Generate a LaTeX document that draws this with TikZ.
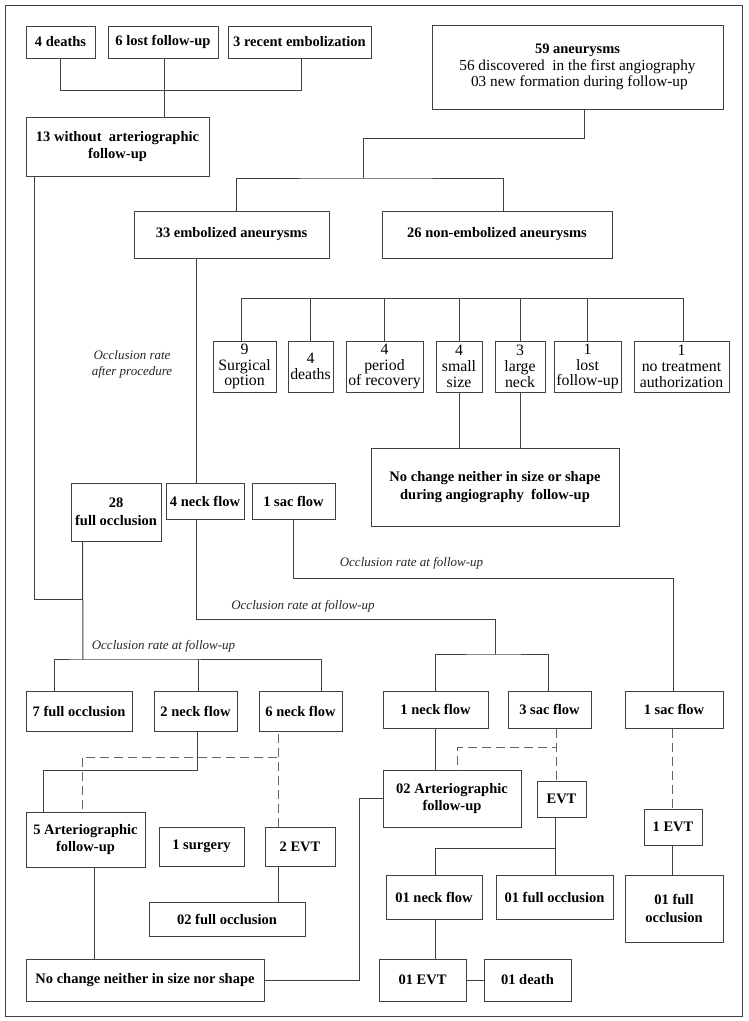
\documentclass[tikz,border=0pt]{standalone}
\usepackage{fontspec}
\setmainfont{Liberation Serif}
\usetikzlibrary{positioning}

\begin{document}
\begin{tikzpicture}[x=1pt, y=-1pt,
			box/.style={draw=black!75, line width=1pt, rectangle, inner sep=1pt, align=center, font=\fontsize{14.5}{17.5}\selectfont\bfseries},
			sbox/.style={draw=black!75, line width=1pt, rectangle, inner sep=1pt, align=center, font=\fontsize{15.8}{15.8}\selectfont},
			line/.style={draw=black!75, line width=1pt},
			dline/.style={draw=black!60, line width=1pt, dash pattern=on 9pt off 5pt},
			note/.style={font=\fontsize{13}{16}\selectfont\itshape, text=black!85, align=center}]
			
			\useasboundingbox (0,0) rectangle (749,1021);
			\draw[line] (5,5) rectangle (742,1016);
			
			% top
			\node[box, minimum width=69pt, minimum height=32pt] (deaths4) at (60.5,42) {4 deaths};
			\node[box, minimum width=110pt, minimum height=32pt, right=12pt of deaths4] (lost6) {6 lost follow-up};
			\node[box, minimum width=143pt, minimum height=32pt, right=9pt of lost6] (recent3) {3 recent embolization};
			\node[box, minimum width=183pt, minimum height=59pt] (without13) at (117.5,146.5) {13 without\ \ arteriographic\\follow-up};
			\node[box, minimum width=291pt, minimum height=84pt, font=\fontsize{15.3}{16.5}\selectfont] (all59) at (577.5,67) {{\fontsize{14.5}{16.5}\selectfont\bfseries 59 aneurysms}\\56 discovered\ \ in the first angiography\\\ 03 new formation during follow-up};
			\node[box, minimum width=195pt, minimum height=47pt] (emb33) at (231.5,234.5) {33 embolized aneurysms};
			\node[box, minimum width=230pt, minimum height=47pt] (non26) at (497,234.5) {26 non-embolized aneurysms};
			
			% non-embolized reasons
			\node[sbox, minimum width=63pt, minimum height=51pt] (surg) at (244.5,366.5) {9\\Surgical\\option};
			\node[sbox, minimum width=45pt, minimum height=51pt, right=11pt of surg] (dth4) {4\\deaths};
			\node[sbox, minimum width=77pt, minimum height=51pt, right=12pt of dth4] (rec) {4\\period\\of recovery};
			\node[sbox, minimum width=46pt, minimum height=51pt, right=12pt of rec] (small) {4\\small\\size};
			\node[sbox, minimum width=50pt, minimum height=51pt, right=12pt of small] (large) {3\\large\\neck};
			\node[sbox, minimum width=67pt, minimum height=51pt, right=8pt of large] (lost1) {1\\lost\\follow-up};
			\node[sbox, minimum width=95pt, minimum height=51pt, right=12pt of lost1] (notreat) {1\\no treatment\\authorization};
			\node[box, minimum width=248pt, minimum height=78pt] (nochg1) at (495,487) {No change neither in size or shape\\during angiography\ \ follow-up};
			
			% after procedure
			\node[note] (rate0) at (132,364) {Occlusion rate\\after procedure};
			\node[box, minimum width=90pt, minimum height=58pt] (full28) at (116,512) {28\\full occlusion};
			\node[box, minimum width=78pt, minimum height=36pt] (neck4) at (205,501) {4 neck flow};
			\node[box, minimum width=83pt, minimum height=36pt, right=7pt of neck4] (sac1) {1 sac flow};
			
			% at follow-up
			\node[note] (rate1) at (163.5,646) {Occlusion rate at follow-up};
			\node[note] (rate2) at (303,606) {Occlusion rate at follow-up};
			\node[note] (rate3) at (411.5,563) {Occlusion rate at follow-up};
			\node[box, minimum width=106pt, minimum height=40pt] (full7) at (79,711) {7 full occlusion};
			\node[box, minimum width=83pt, minimum height=40pt, right=21pt of full7] (neck2) {2 neck flow};
			\node[box, minimum width=83pt, minimum height=40pt, right=21pt of neck2] (neck6) {6 neck flow};
			\node[box, minimum width=105pt, minimum height=37pt] (neck1) at (435.5,709.5) {1 neck flow};
			\node[box, minimum width=83pt, minimum height=37pt, right=19pt of neck1] (sac3) {3 sac flow};
			\node[box, minimum width=98pt, minimum height=37pt] (sacR) at (674,709.5) {1 sac flow};
			
			% bottom left
			\node[box, minimum width=119pt, minimum height=55pt] (art5) at (85.5,839.5) {5 Arteriographic\\follow-up};
			\node[box, minimum width=85pt, minimum height=39pt] (surg1) at (201.5,846.5) {1 surgery};
			\node[box, minimum width=70pt, minimum height=39pt, right=20pt of surg1] (evt2) {2 EVT};
			\node[box, minimum width=156pt, minimum height=34pt] (full02) at (227,919) {02 full occlusion};
			\node[box, minimum width=238pt, minimum height=42pt] (nochg2) at (145,980) {No change neither in size nor shape};
			
			% bottom right
			\node[box, minimum width=138pt, minimum height=57pt] (art02) at (452,798.5) {02 Arteriographic\\follow-up};
			\node[box, minimum width=49pt, minimum height=36pt] (evtm) at (561.5,799) {EVT};
			\node[box, minimum width=96pt, minimum height=44pt] (neck01) at (434,897) {01 neck flow};
			\node[box, minimum width=117pt, minimum height=44pt, right=13pt of neck01] (fullm) {01 full occlusion};
			\node[box, minimum width=87pt, minimum height=42pt] (evt01) at (422.5,980) {01 EVT};
			\node[box, minimum width=87pt, minimum height=42pt, right=17pt of evt01] (death01) {01 death};
			\node[box, minimum width=58pt, minimum height=36pt] (evt1) at (673,827) {1 EVT};
			\node[box, minimum width=98pt, minimum height=67pt] (full01r) at (674,908.5) {01 full\\occlusion};
			
			% connectors
			\coordinate (split) at (363,178);
			\coordinate (fork28) at (83,659);
			\coordinate (fork4) at (495,654);
			\coordinate (dash6) at (277,757);
			
			\draw[line] (deaths4.south) -- ++(0,32) -| ([xshift=1.5pt]recent3.south);
			\draw[line] ([xshift=1pt]lost6.south) -- ([xshift=1pt]lost6.south |- without13.north);
			\draw[line] ([xshift=6.5pt]all59.south) -- ++(0,29) -| (split);
			\draw[line] ([xshift=4.5pt]emb33.north) |- (split) -| ([xshift=6pt]non26.north);
			
			\draw[line] ([xshift=-3.5pt]surg.north) -- ++(0,-42) -| ([xshift=1.5pt]notreat.north);
			\foreach \b in {dth4, rec, small, large, lost1}
			\draw[line] (\b.north) -- ++(0,-42);
			\draw[line] (small.south) -- (small.south |- nochg1.north);
			\draw[line] (large.south) -- (large.south |- nochg1.north);
			
			\draw[line] ([xshift=9pt]without13.south west) |- (fork28 |- 0,599);
			\draw[line] ([xshift=12pt]full28.south west) -- (fork28);
			\draw[line] ([xshift=29pt]full7.north west) |- (fork28) -| ([xshift=20.5pt]neck6.north);
			\draw[line] ([xshift=2.5pt]neck2.north) -- ([xshift=2.5pt]neck2.north |- fork28);
			
			\draw[line] ([xshift=-35.5pt]emb33.south) -- ([xshift=-9pt]neck4.north);
			\draw[line] ([xshift=-9pt]neck4.south) -- ++(0,100) -| (fork4);
			\draw[line] (neck1.north) |- (fork4) -| ([xshift=-1.5pt]sac3.north);
			\draw[line] (sac1.south) -- ++(0,59) -| ([xshift=-1pt]sacR.north);
			
			\draw[line] ([xshift=1.5pt]neck2.south) -- ++(0,39) -| ([xshift=18pt]art5.north west);
			\draw[dline] ([xshift=-22pt]evt2.north) -- ([xshift=-22pt]evt2.north |- neck6.south);
			\draw[dline] (dash6) -| ([xshift=-3.5pt]art5.north);
			\draw[line] ([xshift=-22pt]evt2.south) -- ([xshift=-22pt]evt2.south |- full02.north);
			\draw[line] ([xshift=8.5pt]art5.south) -- ([xshift=8.5pt]art5.south |- nochg2.north);
			\draw[line] (nochg2.east) -| ([xshift=-23pt]art02.west) -- (art02.west);
			
			\draw[line] (neck1.south) -- (neck1.south |- art02.north);
			\draw[dline] ([xshift=6.5pt]sac3.south) -- ([xshift=6.5pt]sac3.south |- evtm.north);
			\draw[dline] ([xshift=6.5pt]sac3.south) -- ++(0,19) -| ([xshift=5pt]art02.north);
			\draw[line] ([xshift=-6.5pt]evtm.south) -- ([xshift=-6.5pt]evtm.south |- fullm.north);
			\draw[line] ([xshift=-6.5pt]evtm.south) -- ++(0,31) -| ([xshift=1pt]neck01.north);
			\draw[line] ([xshift=1pt]neck01.south) -- ([xshift=1pt]neck01.south |- evt01.north);
			\draw[line] (evt01) -- (death01);
			\draw[dline] ([xshift=-2pt]sacR.south) -- ([xshift=-2pt]sacR.south |- evt1.north);
			\draw[line] ([xshift=-1pt]evt1.south) -- ([xshift=-1pt]evt1.south |- full01r.north);
			
		\end{tikzpicture}
\end{document}
